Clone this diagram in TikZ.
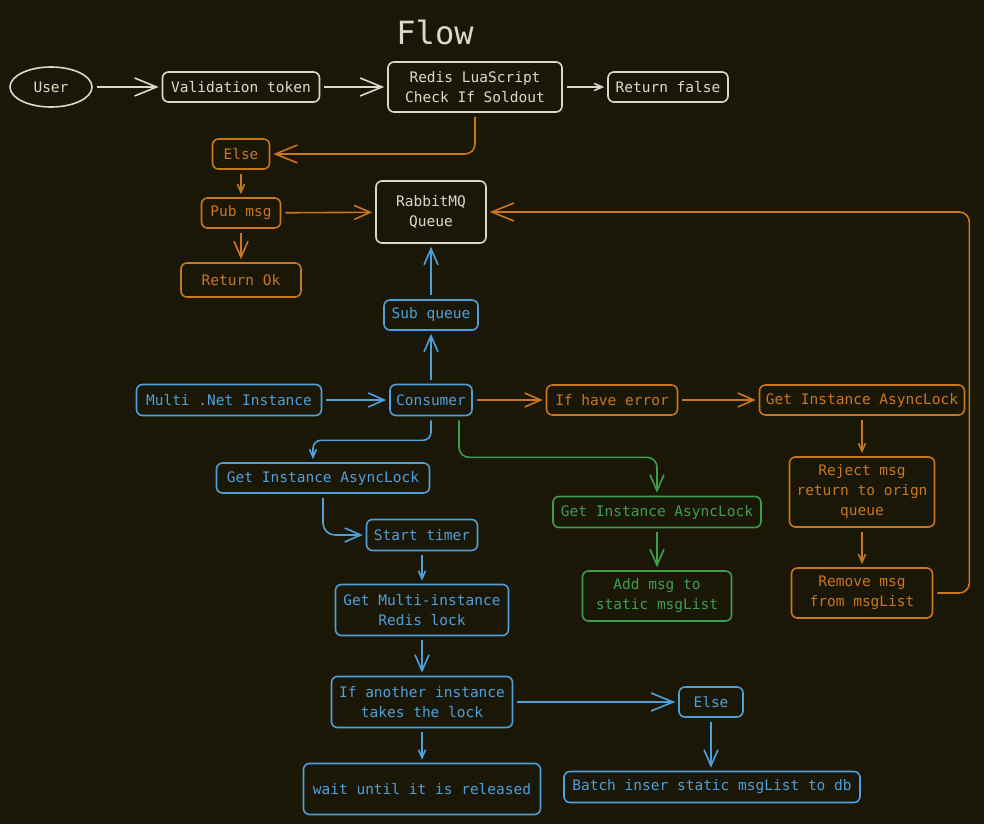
\documentclass[tikz,border=0pt]{standalone}
\usepackage{fontspec}
\setmonofont{DejaVu Sans Mono}
\usetikzlibrary{arrows.meta,shapes.geometric}
\definecolor{bg}{HTML}{1B1707}
\definecolor{wh}{HTML}{DCD8CE}
\definecolor{orn}{HTML}{C8771F}
\definecolor{blu}{HTML}{4F9FDB}
\definecolor{grn}{HTML}{3E9E4E}
\begin{document}
\begin{tikzpicture}[x=1pt,y=-1pt,
  box/.style={draw, rounded corners=6pt, line width=1.6pt, inner sep=0pt, align=center,
    font=\ttfamily\fontsize{14.5}{20}\selectfont},
  wbox/.style={box, draw=wh, text=wh},
  obox/.style={box, draw=orn, text=orn},
  bbox/.style={box, draw=blu, text=blu},
  gbox/.style={box, draw=grn, text=grn},
  ar/.style={line width=1.6pt, shorten <=4pt, shorten >=3pt},
  big/.style={-{Straight Barb[length=22pt,width=18pt]}},
  mid/.style={-{Straight Barb[length=16pt,width=14pt]}},
  tiny/.style={-{Straight Barb[length=8pt,width=7pt]}}]
\fill[bg] (0,0) rectangle (984,824);
\useasboundingbox (0,0) rectangle (984,824);

\node[text=wh, font=\ttfamily\fontsize{32}{36}\selectfont] (title) at (435,32) {Flow};

\node[wbox, ellipse, sharp corners, minimum width=82, minimum height=40] (user) at (51,87) {User};
\node[wbox, minimum width=157, minimum height=30] (valid) at (241,87) {Validation token};
\node[wbox, minimum width=174, minimum height=50] (redis) at (475,87) {Redis LuaScript\\Check If Soldout};
\node[wbox, minimum width=120, minimum height=30] (retf) at (668,87) {Return false};
\node[obox, minimum width=57, minimum height=30] (else1) at (241,154) {Else};
\node[obox, minimum width=79, minimum height=30] (pub) at (241,213) {Pub msg};
\node[obox, minimum width=120, minimum height=34] (retok) at (241,280) {Return Ok};
\node[wbox, minimum width=110, minimum height=62] (rabbit) at (431,212) {RabbitMQ\\Queue};
\node[bbox, minimum width=94, minimum height=30] (subq) at (431,315) {Sub queue};
\node[bbox, minimum width=185, minimum height=31] (multi) at (229,400) {Multi .Net Instance};
\node[bbox, minimum width=82, minimum height=31] (cons) at (431,400) {Consumer};
\node[obox, minimum width=131, minimum height=30] (iferr) at (612,400) {If have error};
\node[obox, minimum width=205, minimum height=30] (geto) at (862,400) {Get Instance AsyncLock};
\node[bbox, minimum width=213, minimum height=30] (getb) at (323,478) {Get Instance AsyncLock};
\node[bbox, minimum width=111, minimum height=31] (start) at (422,535) {Start timer};
\node[gbox, minimum width=208, minimum height=31] (getg) at (657,512) {Get Instance AsyncLock};
\node[gbox, minimum width=149, minimum height=50] (addm) at (657,596) {Add msg to\\static msgList};
\node[obox, minimum width=145, minimum height=70] (rej) at (862,492) {Reject msg\\return to orign\\queue};
\node[obox, minimum width=141, minimum height=50] (rem) at (862,593) {Remove msg\\from msgList};
\node[bbox, minimum width=173, minimum height=51] (getm) at (422,610) {Get Multi-instance\\Redis lock};
\node[bbox, minimum width=181, minimum height=51] (ifan) at (422,702) {If another instance\\takes the lock};
\node[bbox, minimum width=64, minimum height=30] (else2) at (711,702) {Else};
\node[bbox, minimum width=237, minimum height=51] (wait) at (422,789) {wait until it is released};
\node[bbox, minimum width=296, minimum height=31] (batch) at (712,787) {Batch inser static msgList to db};

\draw[ar, wh, big] (user) -- (valid);
\draw[ar, wh, big] (valid) -- (redis);
\draw[ar, wh, tiny] (redis) -- (retf);
\draw[ar, orn, big, rounded corners=10pt] (redis.south) |- (else1.east);
\draw[ar, orn, tiny] (else1) -- (pub);
\draw[ar, orn, mid] (pub) -- (rabbit);
\draw[ar, orn, mid] (pub.south) -- (pub.south |- retok.north);
\draw[ar, blu, mid] (subq) -- (rabbit);
\draw[ar, blu, mid] (cons) -- (subq);
\draw[ar, blu, mid] (multi) -- (cons);
\draw[ar, orn, mid] (cons) -- (iferr);
\draw[ar, orn, mid] (iferr) -- (geto);
\draw[ar, blu, tiny, rounded corners=8pt] (cons.south) -- ++(0,24) -| ([xshift=-10pt]getb.north);
\draw[ar, grn, mid, rounded corners=10pt] ([xshift=28pt]cons.south) -- ++(0,41) -| (getg.north);
\draw[ar, blu, mid, rounded corners=12pt] (getb.south) |- (start.west);
\draw[ar, blu, tiny] (start.south) -- (start.south |- getm.north);
\draw[ar, blu, mid] (getm.south) -- (getm.south |- ifan.north);
\draw[ar, blu, big] (ifan) -- (else2);
\draw[ar, blu, tiny] (ifan.south) -- (ifan.south |- wait.north);
\draw[ar, blu, mid] (else2.south) -- (else2.south |- batch.north);
\draw[ar, grn, mid] (getg) -- (addm);
\draw[ar, orn, tiny] (geto) -- (rej);
\draw[ar, orn, tiny] (rej) -- (rem);
\draw[ar, orn, big, rounded corners=10pt] (rem.east) -- ++(36,0) |- (rabbit.east);
\end{tikzpicture}
\end{document}
